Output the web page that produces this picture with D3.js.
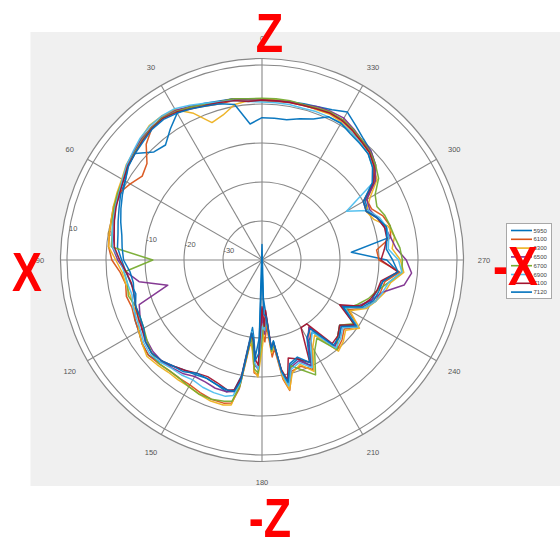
<!DOCTYPE html>
<html><head><meta charset="utf-8">
<script src="https://cdn.jsdelivr.net/npm/d3@7"></script>
<style>body{margin:0;background:#fff}svg{display:block}</style>
</head><body>
<script>
// angles in degrees, counter-clockwise from top
const angles=[0,5,10,15,20,25,30,35,40,45,50,55,60,65,70,75,80,85,90,95,100,105,110,115,120,125,130,135,140,145,150,155,160,165,
168,170,172,174,176,178,180,182,184,186,188,190,192,
195,200,205,210,215,220,225,230,235,240,245,250,255,260,265,270,275,280,285,290,295,300,305,310,315,320,325,330,335,340,345,350,355];

const s5950=[1.3,1.5,2.0,2.2,2.8,3.3,3.5,1.0,-1.5,-0.8,2.5,2.0,0.5,0.0,-1.0,-1.8,-2.5,-2.8,-4.0,-5.0,-5.8,-6.5,-5.5,-4.0,-3.5,-2.5,-2.0,-3.0,-4.5,-5.5,-6.0,-6.5,-6.0,-5.0,
-6.0,-10.0,-22.5,-20.0,-15.0,-20.0,-44.0,-30.0,-26.5,-17.0,-19.0,-10.0,-7.5,
-12.0,-13.0,-10.0,-16.0,-17.5,-11.0,-12.5,-14.0,-11.0,-16.5,-12.0,-10.0,-9.5,-8.5,-5.0,-8.0,-17.0,-7.0,-7.0,-8.5,-10.0,-9.5,-5.0,-2.0,-0.5,0.5,2.0,3.8,2.5,1.8,1.5,1.2,1.2];
const s6100=[0.8,1.2,1.5,1.5,2.0,3.0,4.5,4.8,4.0,2.0,-1.5,-2.5,-1.0,0.5,0.5,0.0,-0.3,-0.5,-1.5,-3.5,-4.5,-4.0,-4.5,-4.0,-3.5,-2.5,-2.0,-2.5,-3.0,-3.0,-3.0,-2.5,-2.0,-2.0,
-2.5,-6.5,-18.5,-17.5,-11.0,-10.5,-22.0,-19.0,-23.0,-15.0,-17.0,-9.0,-5.8,
-10.5,-11.0,-9.0,-14.5,-19.0,-10.0,-11.0,-12.5,-10.0,-14.5,-11.0,-9.0,-8.5,-8.0,-4.5,-10.0,-10.5,-6.5,-6.0,-7.0,-9.0,-9.0,-4.5,-2.5,-1.0,-0.5,0.5,1.5,1.5,1.2,1.0,1.0,0.8];
const s6300=[1.2,1.0,0.5,-1.5,-2.5,1.5,4.5,5.0,5.0,4.0,3.0,2.5,1.5,1.0,0.5,0.0,-0.2,-0.5,-2.5,-4.0,-4.5,-5.0,-5.0,-5.0,-3.5,-2.5,-1.5,-2.0,-2.5,-2.5,-2.5,-2.0,-1.5,-1.5,
-2.0,-8.0,-19.0,-16.5,-11.5,-10.0,-17.0,-22.0,-24.0,-16.0,-18.0,-9.5,-6.0,
-10.0,-11.5,-8.5,-14.0,-16.5,-9.5,-10.5,-12.0,-9.5,-14.0,-10.5,-9.0,-7.5,-6.5,-3.5,-4.5,-6.5,-5.5,-6.5,-9.5,-10.5,-8.0,-4.0,-2.8,-1.5,-0.8,0.0,0.8,1.2,1.0,1.2,1.2,1.2];
const s6500=[1.0,1.2,2.0,2.0,2.5,3.5,4.3,4.5,4.3,3.8,3.0,2.3,1.0,0.5,0.0,-0.8,-1.5,-1.5,-3.0,-5.0,-8.0,-15.0,-6.5,-5.5,-4.5,-4.0,-3.5,-3.5,-4.0,-4.5,-5.5,-5.5,-5.0,-5.0,
-5.5,-9.0,-21.0,-18.5,-13.0,-12.0,-26.0,-21.0,-26.0,-17.5,-18.0,-11.0,-7.5,
-11.5,-12.5,-10.0,-16.5,-19.0,-11.0,-12.0,-13.5,-11.0,-16.0,-12.5,-10.0,-8.0,-3.0,-1.5,-3.0,-5.5,-6.5,-7.5,-8.5,-9.5,-9.0,-4.5,-2.0,-0.5,0.0,1.0,2.0,2.0,1.8,1.2,1.2,1.0];
const s6700=[1.5,1.5,2.0,2.0,2.5,3.3,4.0,4.5,4.2,3.5,2.7,2.0,1.2,0.8,0.3,-0.3,-1.0,-1.2,-12.0,-4.5,-5.0,-4.5,-5.5,-5.5,-5.0,-4.0,-3.0,-2.5,-3.0,-3.0,-2.5,-2.0,-2.0,-2.5,
-3.0,-7.0,-20.0,-17.5,-12.0,-11.0,-20.0,-24.0,-25.0,-16.5,-18.0,-11.0,-8.0,
-12.0,-10.0,-7.5,-13.0,-15.5,-10.0,-12.5,-14.0,-11.5,-15.0,-13.0,-11.0,-9.5,-7.0,-4.0,-4.0,-4.5,-5.5,-6.0,-6.5,-7.5,-6.5,-3.5,-2.0,-0.8,0.0,0.8,1.5,1.8,1.5,1.2,1.5,1.5];
const s6900=[0.5,0.8,1.5,2.0,2.8,3.8,4.8,5.0,4.8,4.2,3.2,2.4,1.3,0.5,0.0,-0.5,-1.0,-1.5,-3.5,-4.5,-5.0,-5.5,-4.8,-4.5,-4.0,-3.0,-2.5,-3.0,-3.8,-4.0,-4.5,-4.0,-3.8,-3.8,
-4.5,-8.0,-21.5,-19.0,-13.5,-12.0,-23.0,-22.0,-26.0,-17.0,-18.5,-10.5,-7.0,
-11.0,-12.0,-9.5,-15.0,-17.5,-10.5,-11.5,-13.0,-10.0,-15.5,-11.0,-9.0,-8.0,-7.0,-4.0,-5.0,-7.5,-7.0,-7.0,-8.0,-10.0,-15.0,-5.0,-3.0,-1.5,-0.8,0.0,0.5,0.5,0.5,0.3,0.5,0.5];
const s7100=[1.0,0.8,1.5,1.8,2.2,2.8,3.8,4.3,4.0,3.3,2.5,2.0,1.0,0.3,-0.2,-0.8,-1.5,-2.0,-3.5,-5.0,-6.0,-6.0,-5.5,-5.0,-4.5,-3.5,-3.0,-3.5,-4.5,-5.5,-6.5,-7.0,-6.5,-5.5,
-6.0,-9.5,-21.0,-19.0,-14.5,-13.0,-28.0,-23.0,-27.0,-17.5,-18.5,-11.5,-8.5,
-14.0,-13.0,-11.0,-20.0,-20.0,-12.0,-12.5,-14.0,-11.0,-17.0,-12.0,-10.5,-9.5,-9.0,-5.0,-9.5,-8.5,-7.5,-7.5,-8.5,-10.5,-10.0,-5.0,-2.5,-1.0,-0.3,0.5,1.2,1.5,1.2,1.0,1.0,1.0];
const s7120=[-3.5,-5.0,0.5,1.5,2.0,2.8,3.5,4.0,3.8,3.0,2.5,1.8,0.5,-0.5,-1.5,-2.5,-3.5,-4.0,-4.5,-6.0,-6.5,-6.0,-5.5,-5.5,-5.0,-3.5,-3.0,-3.5,-4.5,-5.0,-6.5,-6.5,-6.0,-5.5,
-5.5,-8.5,-21.0,-19.5,-14.0,-16.0,-38.0,-26.0,-25.5,-17.0,-19.0,-11.0,-8.0,
-12.5,-13.5,-11.0,-17.0,-18.5,-11.5,-12.0,-13.5,-10.5,-16.0,-11.5,-9.5,-9.0,-8.5,-5.0,-6.5,-8.0,-7.5,-7.0,-8.5,-10.5,-10.0,-5.5,-3.0,-1.5,-1.0,-0.5,0.5,0.5,-1.5,-2.5,-3.5,-3.5];

const seriesNames=["5950","6100","6300","6500","6700","6900","7100","7120"];
const seriesValues=[s5950,s6100,s6300,s6500,s6700,s6900,s7100,s7120];
const colors=["#0072BD","#D95319","#EDB120","#7E2F8E","#77AC30","#4DBEEE","#A2142F","#0072BD"];
const ringTicks=[-30,-20,-10,0,10];
const angleTicks=[0,30,60,90,120,150,180,210,240,270,300,330];

const W=560,H=541,cx=262,cy=260;
const rScale=d3.scaleLinear().domain([-40,11.67]).range([0,201.5]);
const rim=rScale(11.67);
const rad=d=>-d*Math.PI/180;

const svg=d3.select("body").append("svg").attr("width",W).attr("height",H)
  .style("font-family","'Liberation Sans',Arial,Helvetica,sans-serif");
svg.append("rect").attr("x",30.5).attr("y",32).attr("width",W-30.5).attr("height",454).attr("fill","#f0f0f0");

const g=svg.append("g").attr("transform",`translate(${cx},${cy})`);
g.append("circle").attr("r",rim).attr("fill","#fff").attr("stroke","#888").attr("stroke-width",1.2);
g.selectAll("circle.ring").data(ringTicks).enter().append("circle").attr("class","ring")
  .attr("r",d=>rScale(d)).attr("fill","none").attr("stroke","#888").attr("stroke-width",1.1);
g.selectAll("line.spoke").data(angleTicks).enter().append("line")
  .attr("x1",0).attr("y1",0)
  .attr("x2",d=>rim*Math.sin(rad(d))).attr("y2",d=>-rim*Math.cos(rad(d)))
  .attr("stroke","#888").attr("stroke-width",1.1);

// angle labels
g.selectAll("text.ang").data(angleTicks).enter().append("text")
  .attr("x",d=>222*Math.sin(rad(d))).attr("y",d=>-222*Math.cos(rad(d)))
  .attr("text-anchor","middle").attr("dominant-baseline","central")
  .attr("font-size",7.5).attr("fill","#555").text(d=>d);
// radial labels
g.selectAll("text.rl").data(ringTicks).enter().append("text")
  .attr("x",d=>-rScale(d)*0.99).attr("y",d=>-(0.14*rScale(d)+4.5))
  .attr("text-anchor","start").attr("dominant-baseline","central")
  .attr("font-size",7.5).attr("fill","#555").text(d=>d);

const line=d3.lineRadial().angle(d=>rad(d[0])).radius(d=>rScale(d[1])).curve(d3.curveLinearClosed);
seriesValues.forEach((vals,i)=>{
  g.append("path").datum(angles.map((a,j)=>[a,vals[j]]))
   .attr("d",line).attr("fill","none").attr("stroke",colors[i])
   .attr("stroke-width",1.5).attr("stroke-linejoin","round").attr("opacity",0.95);
});

// legend
const lg=svg.append("g");
lg.append("rect").attr("x",506.5).attr("y",223.5).attr("width",45).attr("height",75)
  .attr("fill","#fff").attr("stroke","#a8a8a8").attr("stroke-width",1);
seriesNames.forEach((n,i)=>{
  const y=230.5+i*8.8;
  lg.append("line").attr("x1",511).attr("x2",532).attr("y1",y).attr("y2",y)
    .attr("stroke",colors[i]).attr("stroke-width",1.6);
  lg.append("text").attr("x",533.5).attr("y",y).attr("dominant-baseline","central")
    .attr("font-size",6).attr("fill","#444").text(n);
});

// red direction annotations
const ann=[{t:"Z",x:269.5,y:52},{t:"X",x:27,y:291},{t:"-X",x:515.5,y:285},{t:"-Z",x:270,y:537}];
svg.selectAll("text.ann").data(ann).enter().append("text")
  .attr("transform",d=>`translate(${d.x},${d.y}) scale(0.8,1)`)
  .attr("text-anchor","middle").attr("font-size",56).attr("font-weight","bold")
  .attr("fill","#ff0000").text(d=>d.t);
</script>
</body></html>
